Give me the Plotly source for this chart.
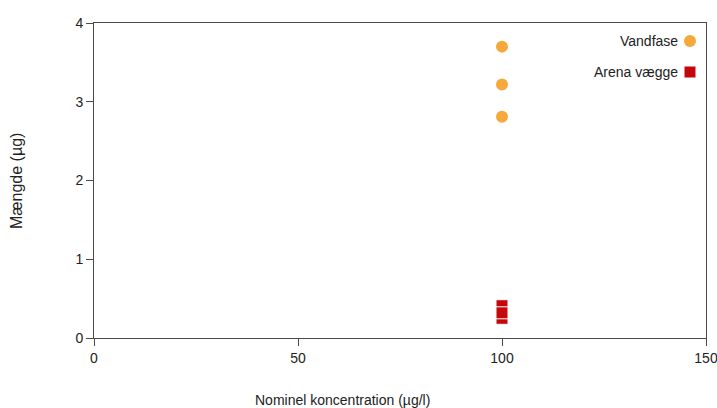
import plotly.graph_objects as go

# Measured amounts at each nominal concentration
vandfase_x = [100, 100, 100]
vandfase_y = [3.70, 3.22, 2.81]

arena_x = [100, 100, 100]
arena_y = [0.25, 0.41, 0.32]

x_ticks = [0, 50, 100, 150]
y_ticks = [0, 1, 2, 3, 4]

ORANGE = "#F6A83A"
RED = "#C3070B"
AXIS = "#4a4a4a"
FONT = "Liberation Sans, Arial, Helvetica, sans-serif"
TEXT = "#222"

fig = go.Figure()

fig.add_trace(go.Scatter(
    x=vandfase_x, y=vandfase_y, mode="markers", name="Vandfase",
    marker=dict(symbol="circle", size=12, color=ORANGE, line=dict(width=0)),
    showlegend=False,
))
fig.add_trace(go.Scatter(
    x=arena_x, y=arena_y, mode="markers", name="Arena vægge",
    marker=dict(symbol="square", size=12, color=RED, line=dict(width=1, color="white")),
    showlegend=False,
))

axis_common = dict(
    showline=True, linecolor=AXIS, linewidth=1, mirror=True,
    ticks="outside", ticklen=7, tickcolor=AXIS, tickwidth=1,
    showgrid=False, zeroline=False,
    tickfont=dict(family=FONT, size=14, color=TEXT),
    ticklabeloverflow="allow",
    automargin=False,
)

fig.update_xaxes(range=[0, 150], tickvals=x_ticks, **axis_common)
fig.update_yaxes(range=[0, 4], tickvals=y_ticks, **axis_common)

# Legend drawn with the symbol to the right of the label
legend_items = [("Vandfase", "circle", ORANGE, 41), ("Arena vægge", "rect", RED, 72)]
for label, shape, color, ypix in legend_items:
    yfrac = 1 - (ypix - 23) / (338 - 23)
    fig.add_annotation(
        xref="paper", yref="paper", x=(680 - 94) / (706 - 94), y=yfrac,
        text=label, showarrow=False, xanchor="right", yanchor="middle",
        font=dict(family=FONT, size=14, color=TEXT),
    )
    half = 6 if shape == "circle" else 5.5
    fig.add_shape(
        type=shape, xref="paper", yref="paper",
        xsizemode="pixel", ysizemode="pixel",
        xanchor=(690 - 94) / (706 - 94), yanchor=yfrac,
        x0=-half, x1=half, y0=-half, y1=half,
        fillcolor=color, line=dict(width=0),
    )

fig.add_annotation(
    xref="paper", yref="paper", x=(342 - 94) / (706 - 94), y=-(400 - 338) / (338 - 23),
    text="Nominel koncentration (µg/l)", showarrow=False,
    xanchor="center", yanchor="middle",
    font=dict(family=FONT, size=14, color=TEXT),
)
fig.add_annotation(
    xref="paper", yref="paper", x=-(94 - 16) / (706 - 94), y=1 - (181 - 23) / (338 - 23),
    text="Mængde (µg)", showarrow=False, textangle=-90,
    xanchor="center", yanchor="middle",
    font=dict(family=FONT, size=16, color=TEXT),
)

fig.update_layout(
    width=717, height=408,
    margin=dict(l=94, r=11, t=23, b=70),
    paper_bgcolor="white", plot_bgcolor="white",
    showlegend=False,
)

fig.write_html("out.html")
